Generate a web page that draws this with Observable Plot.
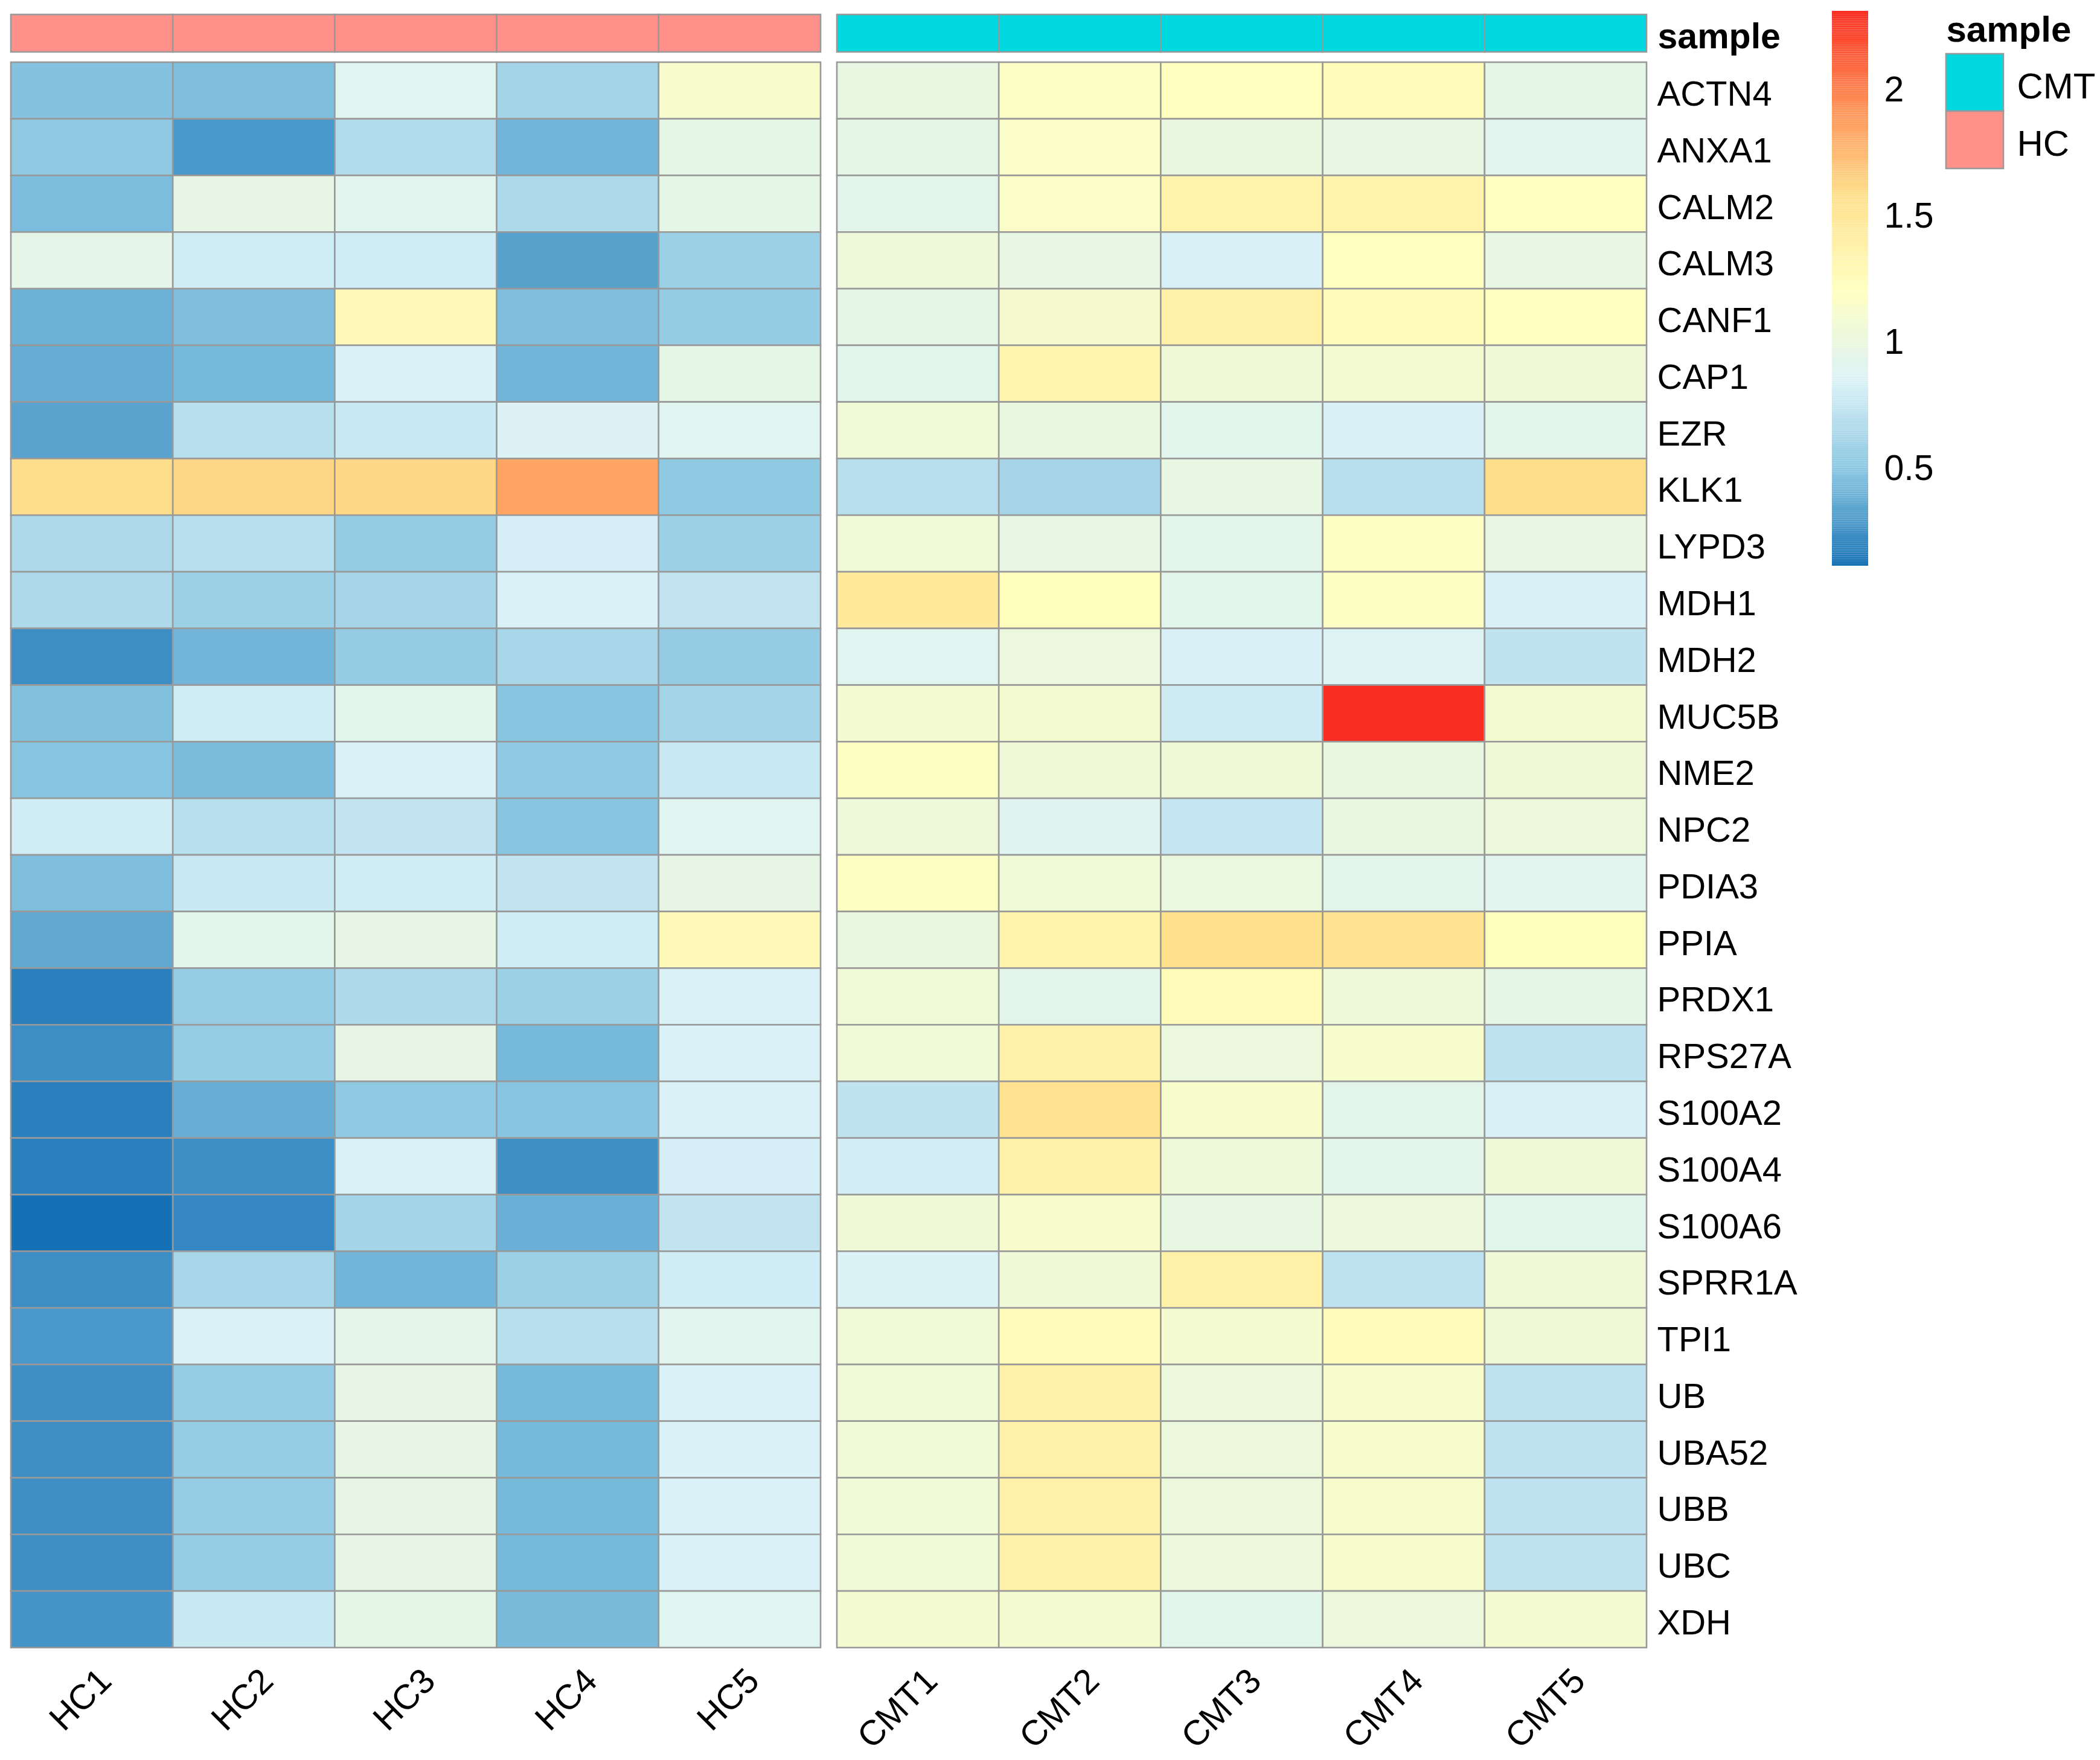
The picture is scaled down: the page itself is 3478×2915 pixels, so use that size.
<!DOCTYPE html>
<html><head><meta charset="utf-8">
<script src="https://cdn.jsdelivr.net/npm/d3@7"></script>
<script src="https://cdn.jsdelivr.net/npm/@observablehq/plot@0.6"></script>
<style>
body{margin:0;background:#fff;}
#fig{position:relative;width:3478px;height:2915px;background:#fff;font-family:"Liberation Sans",Arial,sans-serif;}
#fig > div{position:absolute;}
</style></head><body><div id="fig"></div>
<script>
const genes = ["ACTN4","ANXA1","CALM2","CALM3","CANF1","CAP1","EZR","KLK1","LYPD3","MDH1","MDH2","MUC5B","NME2","NPC2","PDIA3","PPIA","PRDX1","RPS27A","S100A2","S100A4","S100A6","SPRR1A","TPI1","UB","UBA52","UBB","UBC","XDH"];
const hcSamples = ["HC1","HC2","HC3","HC4","HC5"];
const cmtSamples = ["CMT1","CMT2","CMT3","CMT4","CMT5"];

const HC1 = [0.474,0.52,0.448,0.946,0.397,0.377,0.338,1.589,0.65,0.65,0.245,0.468,0.49,0.80,0.458,0.364,0.183,0.245,0.183,0.183,0.115,0.245,0.287,0.251,0.251,0.251,0.251,0.27];
const HC2 = [0.458,0.287,0.97,0.80,0.458,0.432,0.697,1.624,0.697,0.576,0.416,0.80,0.445,0.697,0.766,0.926,0.55,0.55,0.384,0.245,0.219,0.628,0.844,0.55,0.55,0.55,0.55,0.766];
const HC3 = [0.894,0.671,0.906,0.80,1.27,0.844,0.766,1.62,0.546,0.619,0.546,0.933,0.844,0.74,0.80,0.972,0.65,0.972,0.52,0.844,0.606,0.416,0.946,0.972,0.972,0.972,0.972,0.962];
const HC4 = [0.606,0.416,0.65,0.332,0.458,0.416,0.86,1.84,0.826,0.844,0.628,0.49,0.52,0.49,0.74,0.80,0.576,0.432,0.49,0.251,0.39,0.576,0.697,0.432,0.432,0.432,0.432,0.442];
const HC5 = [1.129,0.959,0.959,0.576,0.546,0.962,0.894,0.52,0.576,0.74,0.546,0.606,0.766,0.894,0.972,1.27,0.844,0.844,0.844,0.826,0.74,0.80,0.91,0.844,0.844,0.844,0.844,0.894];
const CMT1 = [0.985,0.959,0.933,1.037,0.962,0.92,1.063,0.697,1.063,1.473,0.894,1.103,1.188,1.037,1.195,0.99,1.063,1.063,0.731,0.818,1.05,0.85,1.063,1.063,1.063,1.063,1.063,1.103];
const CMT2 = [1.175,1.162,1.162,0.978,1.109,1.336,0.99,0.619,0.978,1.243,1.011,1.103,1.05,0.887,1.063,1.364,0.933,1.38,1.55,1.38,1.129,1.05,1.264,1.38,1.38,1.38,1.38,1.103];
const CMT3 = [1.214,1.0,1.35,0.835,1.38,1.05,0.92,0.978,0.926,0.92,0.835,0.792,1.05,0.748,1.005,1.57,1.25,1.011,1.129,1.037,0.978,1.38,1.103,1.024,1.024,1.024,1.024,0.92];
const CMT4 = [1.25,0.978,1.357,1.21,1.25,1.10,0.835,0.697,1.181,1.181,0.874,2.313,0.998,0.998,0.92,1.56,1.037,1.129,0.926,0.926,1.024,0.723,1.25,1.129,1.129,1.129,1.129,1.024];
const CMT5 = [0.959,0.906,1.2,0.978,1.21,1.05,0.933,1.59,0.978,0.835,0.731,1.103,1.05,1.024,0.906,1.243,0.962,0.723,0.835,1.05,0.92,1.05,1.05,0.723,0.723,0.723,0.723,1.103];

const groups = ["CMT","HC"];
const groupColors = ["#00D9E0","#FF918A"];
const colorStops = [0.115, 0.4813, 0.8477, 1.214, 1.5803, 1.9467, 2.313];
const colorRange = ["#1570B5","#86C4E0","#DBF2F7","#FFFFBF","#FFE08C","#FF8D52","#F92D21"];
const legendTicks = [0.5, 1, 1.5, 2];

const columns = {HC1, HC2, HC3, HC4, HC5, CMT1, CMT2, CMT3, CMT4, CMT5};
const tidy = samples => samples.flatMap(s => genes.map((g, i) => ({gene: g, sample: s, value: columns[s][i]})));

const fig = document.getElementById("fig");
const FONT = "'Liberation Sans', Arial, sans-serif";
const style = {background: "transparent", overflow: "visible", maxWidth: "none", fontFamily: FONT, color: "#000"};
const colorScale = {type: "linear", domain: colorStops, range: colorRange, interpolate: "rgb"};
const groupScale = {type: "ordinal", domain: groups, range: groupColors};
const BORDER = "#999999", BW = 2.6;
const FS = 58;
const CELLW = 268.2, CELLH = 93.78;
const HEATH = CELLH * genes.length;

function place(el, left, top) {
  const d = document.createElement("div");
  d.style.left = left + "px"; d.style.top = top + "px";
  d.appendChild(el); fig.appendChild(d);
}

function annotation(samples, group, withLabel) {
  return Plot.plot({
    width: CELLW * samples.length + (withLabel ? 400 : 0), height: 62,
    marginLeft: 0, marginRight: withLabel ? 400 : 0, marginTop: 0, marginBottom: 0,
    x: {domain: samples, padding: 0, round: false, axis: null},
    y: {domain: ["sample"], padding: 0, round: false, axis: null},
    color: groupScale, style,
    marks: [
      Plot.cell(samples, {x: d => d, y: () => "sample", fill: () => group, stroke: BORDER, strokeWidth: BW}),
      withLabel ? Plot.text(["sample"], {frameAnchor: "right", text: d => d, textAnchor: "start", dx: 18, dy: 6, fontSize: FS + 1, fontWeight: "bold", fill: "#000"}) : null
    ]
  });
}

function heat(samples, withLabels) {
  return Plot.plot({
    width: CELLW * samples.length + (withLabels ? 400 : 0), height: HEATH + 200,
    marginLeft: 0, marginRight: withLabels ? 400 : 0, marginTop: 0, marginBottom: 200,
    x: {domain: samples, padding: 0, round: false, axis: null},
    y: {domain: genes, padding: 0, round: false, axis: null},
    color: colorScale, style,
    marks: [
      Plot.cell(tidy(samples), {x: "sample", y: "gene", fill: "value", stroke: BORDER, strokeWidth: BW}),
      Plot.text(samples, {x: d => d, frameAnchor: "bottom", text: d => d, rotate: -45, textAnchor: "end", lineAnchor: "top", dx: 6, dy: 29, fontSize: FS, fill: "#000"}),
      withLabels ? Plot.text(genes, {y: d => d, frameAnchor: "right", text: d => d, textAnchor: "start", dx: 17, dy: 6, fontSize: FS, fill: "#000"}) : null
    ]
  });
}

place(annotation(hcSamples, "HC", false), 18, 24);
place(annotation(cmtSamples, "CMT", true), 1386, 24);
place(heat(hcSamples, false), 18, 103);
place(heat(cmtSamples, true), 1386, 103);

// colour bar legend
const nSteps = 300;
const lo = colorStops[0], hi = colorStops[colorStops.length - 1];
const ramp = d3.range(nSteps).map(i => ({v1: lo + (hi - lo) * i / nSteps, v2: lo + (hi - lo) * (i + 1) / nSteps}));
place(Plot.plot({
  width: 60 + 200, height: 919,
  marginLeft: 0, marginRight: 200, marginTop: 0, marginBottom: 0,
  y: {domain: [lo, hi], axis: null},
  color: colorScale, style,
  marks: [
    Plot.rect(ramp, {y1: "v1", y2: "v2", fill: d => (d.v1 + d.v2) / 2}),
    Plot.axisY(legendTicks, {anchor: "right", tickSize: 0, tickPadding: 26, fontSize: FS + 1, tickFormat: d => String(d), label: null, fill: "#000"})
  ]
}), 3034, 18);

// sample legend
place(Plot.plot({
  width: 95 + 200, height: 190,
  marginLeft: 0, marginRight: 200, marginTop: 0, marginBottom: 0,
  x: {domain: ["key"], padding: 0, round: false, axis: null},
  y: {domain: groups, padding: 0, round: false, axis: null},
  color: groupScale, style,
  marks: [
    Plot.cell(groups, {x: () => "key", y: d => d, fill: d => d, stroke: BORDER, strokeWidth: BW}),
    Plot.text(groups, {y: d => d, frameAnchor: "right", text: d => d, textAnchor: "start", dx: 22, dy: 7, fontSize: FS + 2, fill: "#000"}),
    Plot.text(["sample"], {frameAnchor: "top-left", text: d => d, textAnchor: "start", lineAnchor: "middle", dy: -40, fontSize: FS + 2, fontWeight: "bold", fill: "#000"})
  ]
}), 3223, 89);
</script></body></html>
